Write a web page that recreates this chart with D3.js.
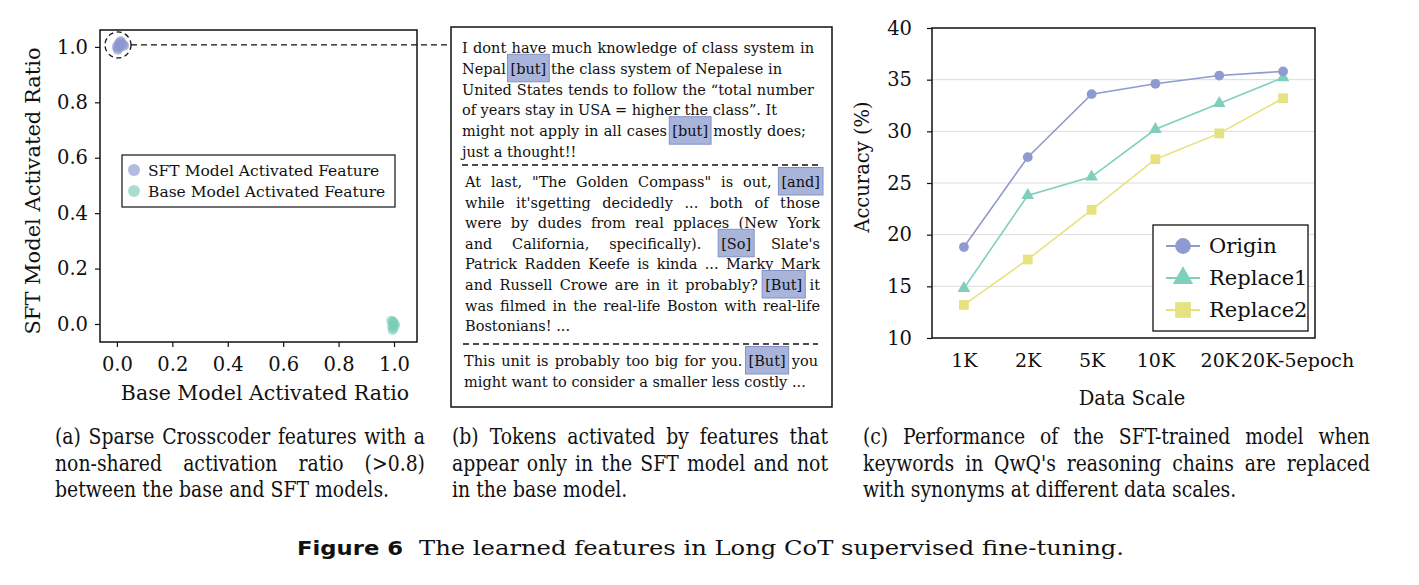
<!DOCTYPE html>
<html>
<head>
<meta charset="utf-8">
<script src="https://cdn.jsdelivr.net/npm/d3@7"></script>
<style>
body { margin: 0; background: #fff; }
svg { display: block; }
</style>
</head>
<body>
<svg id="fig" width="1419" height="585"></svg>
<script>
// ---- data ----
var sftX = [0.000, 0.006, 0.010, 0.016, 0.022, 0.008, 0.003, 0.026, 0.013];
var sftY = [1.000, 1.012, 1.004, 1.016, 1.008, 0.996, 0.990, 1.004, 1.020];
var baseX = [0.990, 0.996, 1.001, 0.993, 0.998, 1.004, 0.995, 0.997];
var baseY = [0.012, 0.005, 0.000, -0.008, -0.015, -0.004, -0.022, 0.009];

var scales = ["1K", "2K", "5K", "10K", "20K", "20K-5epoch"];
var origin = [18.8, 27.5, 33.6, 34.6, 35.4, 35.8];
var replace1 = [14.8, 23.8, 25.6, 30.2, 32.7, 35.2];
var replace2 = [13.2, 17.6, 22.4, 27.3, 29.8, 33.2];
var accTicks = [10, 15, 20, 25, 30, 35, 40];
var ratioTicks = [0, 0.2, 0.4, 0.6, 0.8, 1.0];

var para1 = [
  "I dont have much knowledge of class system in",
  "Nepal [but] the class system of Nepalese in",
  "United States tends to follow the \u201ctotal number",
  "of years stay in USA = higher the class\u201d. It",
  "might not apply in all cases [but] mostly does;",
  "just a thought!!"
];
var para2 = [
  "At last, \"The Golden Compass\" is out, [and]",
  "while it'sgetting decidedly ... both of those",
  "were by dudes from real pplaces (New York",
  "and California, specifically). [So] Slate's",
  "Patrick Radden Keefe is kinda ... Marky Mark",
  "and Russell Crowe are in it probably? [But] it",
  "was filmed in the real-life Boston with real-life",
  "Bostonians! ..."
];
var para3 = [
  "This unit is probably too big for you. [But] you",
  "might want to consider a smaller less costly ..."
];

var capA = ["(a) Sparse Crosscoder features with a", "non-shared activation ratio (>0.8)", "between the base and SFT models."];
var capB = ["(b) Tokens activated by features that", "appear only in the SFT model and not", "in the base model."];
var capC = ["(c) Performance of the SFT-trained model when", "keywords in QwQ's reasoning chains are replaced", "with synonyms at different data scales."];

var svg = d3.select("#fig");
var SERIF = "'DejaVu Serif', serif";
var SANS = "'DejaVu Sans', sans-serif";

// measuring helper
var meas = svg.append("text").attr("visibility", "hidden");
function textWidth(s, font, size) {
  meas.attr("font-family", font).attr("font-size", size).text(s);
  return meas.node().getComputedTextLength();
}

// draws one line word by word, justified to [x0, x1] when x1 given; sx squeezes glyphs
function drawLine(g, line, x0, x1, y, font, size, hl, sx) {
  sx = sx || 1;
  var words = line.split(" ");
  var widths = words.map(w => textWidth(w, font, size) * sx);
  var total = d3.sum(widths);
  var gap = (textWidth("a a", font, size) - textWidth("aa", font, size)) * sx;
  if (x1 != null && words.length > 1) gap = (x1 - x0 - total) / (words.length - 1);
  var x = x0;
  words.forEach(function(w, i) {
    if (hl && w.charAt(0) == "[") {
      g.append("rect")
        .attr("x", x - 3).attr("y", y - size - 5)
        .attr("width", widths[i] + 6).attr("height", size + 13)
        .attr("fill", "#a9b4da").attr("stroke", "#8491c6").attr("stroke-width", 1);
    }
    g.append("text").attr("transform", `translate(${x},${y}) scale(${sx},1)`)
      .attr("font-family", font).attr("font-size", size).attr("fill", "#111")
      .text(w);
    x += widths[i] + gap;
  });
}

// ================= (a) scatter =================
var ga = svg.append("g");
var ax = d3.scaleLinear().domain([-0.061, 1.083]).range([100, 417]);
var ay = d3.scaleLinear().domain([-0.065, 1.061]).range([342, 30]);

ga.append("g").attr("transform", "translate(0,342)")
  .call(d3.axisBottom(ax).tickValues(ratioTicks).tickFormat(d3.format(".1f")).tickSize(5).tickPadding(10))
  .call(g => g.select(".domain").remove())
  .call(g => g.selectAll("text").attr("font-family", SERIF).attr("font-size", 19.5).attr("fill", "#111"));
ga.append("g").attr("transform", "translate(100,0)")
  .call(d3.axisLeft(ay).tickValues(ratioTicks).tickFormat(d3.format(".1f")).tickSize(5).tickPadding(7))
  .call(g => g.select(".domain").remove())
  .call(g => g.selectAll("text").attr("font-family", SERIF).attr("font-size", 19.5).attr("fill", "#111"));
ga.selectAll(".tick line").attr("stroke", "#111").attr("stroke-width", 1.2);

ga.append("rect").attr("x", 100).attr("y", 30).attr("width", 317).attr("height", 312)
  .attr("fill", "none").attr("stroke", "#111").attr("stroke-width", 1.5);

ga.selectAll("circle.sft").data(d3.zip(sftX, sftY)).join("circle")
  .attr("class", "sft").attr("cx", d => ax(d[0])).attr("cy", d => ay(d[1])).attr("r", 5)
  .attr("fill", "#8b97cf").attr("fill-opacity", 0.65);
ga.selectAll("circle.base").data(d3.zip(baseX, baseY)).join("circle")
  .attr("class", "base").attr("cx", d => ax(d[0])).attr("cy", d => ay(d[1])).attr("r", 5)
  .attr("fill", "#7ccbb8").attr("fill-opacity", 0.6);

// dashed callout
ga.append("circle").attr("cx", ax(0.004)).attr("cy", ay(1.007)).attr("r", 13)
  .attr("fill", "none").attr("stroke", "#111").attr("stroke-width", 1.3).attr("stroke-dasharray", "5,3.5");
ga.append("line").attr("x1", ax(0.004) + 13).attr("x2", 457).attr("y1", ay(1.007)).attr("y2", ay(1.007))
  .attr("stroke", "#111").attr("stroke-width", 1.3).attr("stroke-dasharray", "6,4");

// legend
var lga = ga.append("g");
lga.append("rect").attr("x", 122).attr("y", 155).attr("width", 273).attr("height", 52)
  .attr("fill", "#fff").attr("stroke", "#111").attr("stroke-width", 1.2);
[["SFT Model Activated Feature", "#8b97cf"], ["Base Model Activated Feature", "#7ccbb8"]].forEach(function(e, i) {
  lga.append("circle").attr("cx", 134).attr("cy", 170 + i * 21).attr("r", 6).attr("fill", e[1]).attr("fill-opacity", 0.65);
  lga.append("text").attr("x", 148).attr("y", 176 + i * 21).attr("font-family", SERIF).attr("font-size", 15.5)
    .attr("fill", "#111").text(e[0]);
});

ga.append("text").attr("x", 265).attr("y", 400).attr("text-anchor", "middle")
  .attr("font-family", SERIF).attr("font-size", 20.5).attr("fill", "#111").text("Base Model Activated Ratio");
ga.append("text").attr("transform", "translate(40,191) rotate(-90)").attr("text-anchor", "middle")
  .attr("font-family", SERIF).attr("font-size", 21).attr("fill", "#111").text("SFT Model Activated Ratio");

// ================= (b) text panel =================
var gb = svg.append("g");
gb.append("rect").attr("x", 451).attr("y", 27).attr("width", 381).attr("height", 380)
  .attr("fill", "#fff").attr("stroke", "#111").attr("stroke-width", 1.5);
var fsB = 14.5;
// line end positions (null = natural spacing)
var p1End = [814, 782, 814, 777, 806, null];
var p2End = [820, 820, 820, 820, 820, 820, 820, null];
var p3End = [818, null];
para1.forEach((l, i) => drawLine(gb, l, 462, p1End[i], 53 + i * 20.8, SERIF, fsB, true));
para2.forEach((l, i) => drawLine(gb, l, 465, p2End[i], 187 + i * 20.6, SERIF, fsB, true));
para3.forEach((l, i) => drawLine(gb, l, 464, p3End[i], 366 + i * 21, SERIF, fsB, true));
gb.append("line").attr("x1", 462).attr("x2", 820).attr("y1", 165).attr("y2", 165)
  .attr("stroke", "#111").attr("stroke-width", 1.3).attr("stroke-dasharray", "6,4");
gb.append("line").attr("x1", 463).attr("x2", 818).attr("y1", 344).attr("y2", 344)
  .attr("stroke", "#111").attr("stroke-width", 1.3).attr("stroke-dasharray", "6,4");

// ================= (c) line chart =================
var gc = svg.append("g");
var cx = d3.scalePoint().domain(scales).range([932, 1315]).padding(0.5);
var cy = d3.scaleLinear().domain([10, 40]).range([338, 28]);

gc.selectAll("line.grid").data(accTicks.slice(1, -1)).join("line").attr("class", "grid")
  .attr("x1", 932).attr("x2", 1315).attr("y1", d => cy(d)).attr("y2", d => cy(d))
  .attr("stroke", "#dcdcdc").attr("stroke-width", 1);

gc.append("g").attr("transform", "translate(932,0)")
  .call(d3.axisLeft(cy).tickValues(accTicks).tickSize(5).tickPadding(15))
  .call(g => g.select(".domain").remove())
  .call(g => g.selectAll("text").attr("font-family", SERIF).attr("font-size", 19.5).attr("fill", "#111"))
  .call(g => g.selectAll("line").attr("stroke", "#111").attr("stroke-width", 1.2));
gc.append("g").attr("transform", "translate(0,338)")
  .call(d3.axisBottom(cx).tickSize(0).tickPadding(16))
  .call(g => g.select(".domain").remove())
  .call(g => g.selectAll("text").attr("font-family", SERIF).attr("font-size", 19).attr("fill", "#111")
    .attr("dx", d => d == "20K-5epoch" ? 14 : 0));

var series = [
  {name: "Origin", values: origin, color: "#8e9ad0", shape: d3.symbolCircle, size: 75},
  {name: "Replace1", values: replace1, color: "#7fcfbc", shape: d3.symbolTriangle, size: 70},
  {name: "Replace2", values: replace2, color: "#e6e27f", shape: d3.symbolSquare, size: 95}
];
var line = d3.line().x((d, i) => cx(scales[i])).y(d => cy(d));
series.slice().reverse().forEach(function(s) {
  gc.append("path").attr("d", line(s.values)).attr("fill", "none")
    .attr("stroke", s.color).attr("stroke-width", 1.6);
  gc.selectAll(null).data(s.values).join("path")
    .attr("transform", (d, i) => `translate(${cx(scales[i])},${cy(d)})`)
    .attr("d", d3.symbol().type(s.shape).size(s.size)).attr("fill", s.color);
});

gc.append("rect").attr("x", 932).attr("y", 28).attr("width", 383).attr("height", 310)
  .attr("fill", "none").attr("stroke", "#111").attr("stroke-width", 1.5);

// legend
var lgc = gc.append("g");
lgc.append("rect").attr("x", 1153).attr("y", 225).attr("width", 155).attr("height", 106)
  .attr("fill", "#fff").attr("stroke", "#111").attr("stroke-width", 1.3);
series.forEach(function(s, i) {
  var yy = 246 + i * 32;
  lgc.append("line").attr("x1", 1166).attr("x2", 1200).attr("y1", yy).attr("y2", yy)
    .attr("stroke", s.color).attr("stroke-width", 2);
  lgc.append("path").attr("transform", `translate(1183,${yy})`)
    .attr("d", d3.symbol().type(s.shape).size(s.size * 2.6)).attr("fill", s.color);
  lgc.append("text").attr("x", 1209).attr("y", yy + 7).attr("font-family", SERIF).attr("font-size", 21)
    .attr("fill", "#111").text(s.name);
});

gc.append("text").attr("x", 1132).attr("y", 405).attr("text-anchor", "middle")
  .attr("font-family", SERIF).attr("font-size", 19.5).attr("fill", "#111").text("Data Scale");
gc.append("text").attr("transform", "translate(869,167) rotate(-90)").attr("text-anchor", "middle")
  .attr("font-family", SERIF).attr("font-size", 19.5).attr("fill", "#111").text("Accuracy (%)");

// ================= captions =================
var gcap = svg.append("g");
var capBoxes = [[capA, 55, 425, 392], [capB, 452, 828, 624], [capC, 863, 1370, 1240]];
// Times-like captions: DejaVu Serif at full height, squeezed so the unjustified last lines end where they do
var fsC = 21.5;
var sxC = d3.mean(capBoxes, c => (c[3] - c[1]) / textWidth(c[0][2], SERIF, fsC));
capBoxes.forEach(function(c) {
  c[0].forEach(function(l, i) {
    drawLine(gcap, l, c[1], i < 2 ? c[2] : null, 444 + i * 26.5, SERIF, fsC, false, sxC);
  });
});
gcap.append("text").attr("x", 297).attr("y", 555).attr("font-family", SANS)
  .attr("font-weight", "bold").attr("font-size", 20).attr("fill", "#111")
  .attr("textLength", 106).attr("lengthAdjust", "spacingAndGlyphs").text("Figure 6");
gcap.append("text").attr("x", 419).attr("y", 555).attr("font-family", SERIF)
  .attr("font-size", 21).attr("fill", "#111")
  .attr("textLength", 705).attr("lengthAdjust", "spacingAndGlyphs")
  .text("The learned features in Long CoT supervised fine-tuning.");

meas.remove();
</script>
</body>
</html>
